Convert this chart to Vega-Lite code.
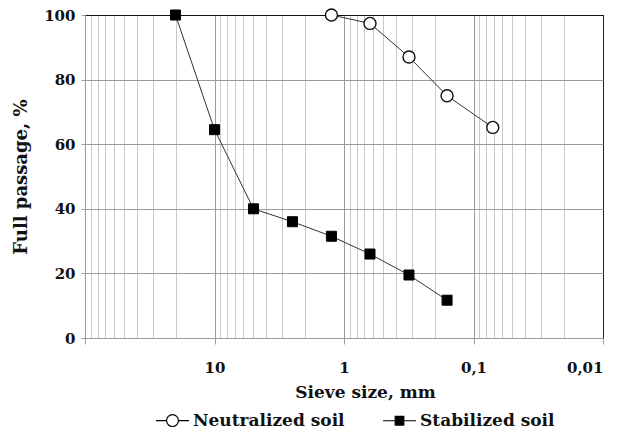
{
  "$schema": "https://vega.github.io/schema/vega-lite/v6.json",
  "width": 518,
  "height": 323,
  "autosize": {"type": "none"},
  "padding": {"left": 85, "top": 15, "right": 17, "bottom": 103},
  "background": "white",
  "config": {
    "view": {"stroke": "#111", "strokeWidth": 1},
    "axis": {
      "labelFont": "DejaVu Serif",
      "titleFont": "DejaVu Serif",
      "labelFontWeight": "bold",
      "titleFontWeight": "bold",
      "labelColor": "#111",
      "titleColor": "#111"
    }
  },
  "data": {
    "values": [
      {"size": 1.25, "passage": 100, "series": "Neutralized soil"},
      {"size": 0.63, "passage": 97.4, "series": "Neutralized soil"},
      {"size": 0.315, "passage": 87, "series": "Neutralized soil"},
      {"size": 0.16, "passage": 75, "series": "Neutralized soil"},
      {"size": 0.071, "passage": 65.2, "series": "Neutralized soil"},
      {"size": 20, "passage": 100, "series": "Stabilized soil"},
      {"size": 10, "passage": 64.5, "series": "Stabilized soil"},
      {"size": 5, "passage": 40, "series": "Stabilized soil"},
      {"size": 2.5, "passage": 36, "series": "Stabilized soil"},
      {"size": 1.25, "passage": 31.5, "series": "Stabilized soil"},
      {"size": 0.63, "passage": 26, "series": "Stabilized soil"},
      {"size": 0.315, "passage": 19.5, "series": "Stabilized soil"},
      {"size": 0.16, "passage": 11.7, "series": "Stabilized soil"}
    ]
  },
  "resolve": {"axis": {"x": "independent", "y": "independent"}},
  "layer": [
    {
      "mark": {"type": "line", "stroke": "#333", "strokeWidth": 1},
      "encoding": {
        "x": {
          "field": "size", "type": "quantitative",
          "scale": {"type": "log", "domain": [0.01, 100], "reverse": true, "nice": false},
          "axis": {
            "orient": "bottom",
            "values": [0.02,0.03,0.04,0.05,0.06,0.07,0.08,0.09,0.2,0.3,0.4,0.5,0.6,0.7,0.8,0.9,2,3,4,5,6,7,8,9,20,30,40,50,60,70,80,90],
            "labels": false, "ticks": false, "domain": false, "title": null,
            "grid": true, "gridColor": "#c8c8c8", "gridWidth": 1
          }
        },
        "y": {
          "field": "passage", "type": "quantitative",
          "scale": {"domain": [0, 100], "nice": false},
          "axis": {
            "values": [0, 20, 40, 60, 80, 100],
            "grid": true,
            "gridColor": {"condition": {"test": "datum.value == 100", "value": "#111"}, "value": "#9a9a9a"},
            "domainColor": "#9a9a9a", "tickColor": "#9a9a9a", "tickSize": 4,
            "labelFontSize": 15, "labelPadding": 6,
            "title": "Full passage, %", "titleFontSize": 18, "titlePadding": 13
          }
        },
        "detail": {"field": "series"}
      }
    },
    {
      "transform": [{"filter": "datum.series == 'Neutralized soil'"}],
      "mark": {"type": "point", "shape": "circle", "filled": true, "fill": "white", "stroke": "#111", "strokeWidth": 1.4, "size": 144, "opacity": 1},
      "encoding": {
        "x": {
          "field": "size", "type": "quantitative",
          "axis": {
            "orient": "bottom",
            "values": [100, 10, 1, 0.1, 0.01],
            "labelExpr": "datum.value == 100 ? '' : replace(toString(datum.value), '.', ',')",
            "grid": true,
            "gridColor": {"condition": {"test": "datum.value == 0.01", "value": "#222"}, "value": "#9a9a9a"},
            "domainColor": "#9a9a9a", "tickColor": "#9a9a9a", "tickSize": 6,
            "labelFontSize": 15, "labelPadding": 16,
            "title": "Sieve size, mm", "titleFontSize": 17, "titlePadding": 9, "titleX": 280
          }
        },
        "y": {"field": "passage", "type": "quantitative", "axis": null}
      }
    },
    {
      "transform": [{"filter": "datum.series == 'Stabilized soil'"}],
      "mark": {"type": "point", "shape": "square", "filled": true, "fill": "#000", "stroke": "#000", "strokeWidth": 1, "size": 100, "opacity": 1},
      "encoding": {
        "x": {"field": "size", "type": "quantitative", "axis": null},
        "y": {"field": "passage", "type": "quantitative", "axis": null}
      }
    },
    {
      "mark": {"type": "point", "filled": true, "opacity": 0},
      "encoding": {
        "x": {"field": "size", "type": "quantitative", "axis": null},
        "y": {"field": "passage", "type": "quantitative", "axis": null},
        "color": {
          "field": "series", "type": "nominal",
          "scale": {"domain": ["Neutralized soil", "Stabilized soil"], "range": ["#ffffff", "#000000"]},
          "legend": {
            "title": null, "orient": "none", "legendX": 70, "legendY": 388,
            "direction": "horizontal",
            "symbolSize": 1089,
            "labelFont": "DejaVu Serif", "labelFontWeight": "bold", "labelFontSize": 17, "labelColor": "#111",
            "labelOffset": 3, "columnPadding": 35, "labelLimit": 300,
            "encode": {"symbols": {"update": {
              "stroke": {"value": "#000"}, "strokeWidth": {"value": 1.2},
              "opacity": {"value": 1}, "strokeOpacity": {"value": 1}, "fillOpacity": {"value": 1}
            }}}
          }
        },
        "shape": {
          "field": "series", "type": "nominal",
          "scale": {
            "domain": ["Neutralized soil", "Stabilized soil"],
            "range": [
              "M-1,0L-0.36,0M0.36,0A0.36,0.36 0 1,1 -0.36,0A0.36,0.36 0 1,1 0.36,0M0.36,0L1,0",
              "M-1,0L-0.26,0M-0.26,-0.26L0.26,-0.26L0.26,0.26L-0.26,0.26ZM0.26,0L1,0"
            ]
          },
          "legend": {
            "title": null, "orient": "none", "legendX": 70, "legendY": 388,
            "direction": "horizontal",
            "symbolSize": 1089,
            "labelFont": "DejaVu Serif", "labelFontWeight": "bold", "labelFontSize": 17, "labelColor": "#111",
            "labelOffset": 3, "columnPadding": 35, "labelLimit": 300,
            "encode": {"symbols": {"update": {
              "stroke": {"value": "#000"}, "strokeWidth": {"value": 1.2},
              "opacity": {"value": 1}, "strokeOpacity": {"value": 1}, "fillOpacity": {"value": 1}
            }}}
          }
        }
      }
    }
  ]
}
